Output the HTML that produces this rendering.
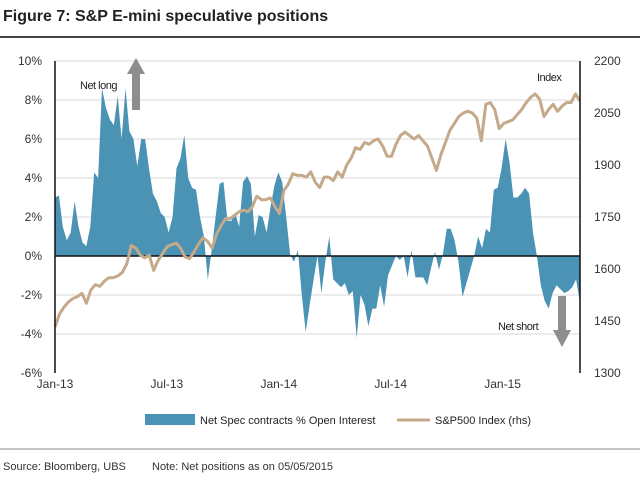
<!DOCTYPE html>
<html><head><meta charset="utf-8"><style>
body{margin:0;background:#fff;font-family:"Liberation Sans",sans-serif;}
svg text{font-family:"Liberation Sans",sans-serif;}
</style></head><body>
<svg id="chart" width="640" height="480" viewBox="0 0 640 480" xmlns="http://www.w3.org/2000/svg">
<text x="3" y="21" font-size="16" font-weight="bold" fill="#222">Figure 7: S&amp;P E-mini speculative positions</text>
<line x1="0" y1="37" x2="640" y2="37" stroke="#444" stroke-width="2"/>
<g id="grid"></g>
<g id="series"></g>
<g id="axes"></g>
<g>
<text x="80" y="89" font-size="11" fill="#222" letter-spacing="-0.5">Net long</text>
<rect x="132" y="72" width="8" height="38" fill="#8e8e8e"/>
<polygon points="127,74 136,58 145,74" fill="#8e8e8e"/>
</g>
<text x="537" y="81" font-size="11" fill="#222" letter-spacing="-0.5">Index</text>
<g>
<text x="498" y="330" font-size="11" fill="#222" letter-spacing="-0.5">Net short</text>
<rect x="558" y="296" width="8" height="35" fill="#8e8e8e"/>
<polygon points="553,330 562,347 571,330" fill="#8e8e8e"/>
</g>
<g>
<rect x="145" y="414" width="50" height="11" fill="#4a93b5"/>
<text x="200" y="424" font-size="11" fill="#222">Net Spec contracts % Open Interest</text>
<line x1="397" y1="420" x2="430" y2="420" stroke="#c4a98a" stroke-width="3"/>
<text x="435" y="424" font-size="11" fill="#222">S&amp;P500 Index (rhs)</text>
</g>
<line x1="0" y1="449" x2="640" y2="449" stroke="#888" stroke-width="1"/>
<text x="3" y="470" font-size="11" fill="#333">Source: Bloomberg, UBS</text>
<text x="152" y="470" font-size="11" fill="#333">Note: Net positions as on 05/05/2015</text>
</svg>
<script>
const netSpec=[3.0,3.1,1.5,0.8,1.2,2.8,1.5,0.7,0.5,1.5,4.3,4.0,8.6,7.6,7.0,6.7,8.2,6.0,8.6,6.4,6.0,4.6,6.0,6.0,4.5,3.2,2.8,2.2,2.0,1.2,2.0,4.5,5.0,6.2,4.0,3.5,3.4,2.0,1.0,-1.2,0.3,2.0,3.7,3.8,1.8,1.8,2.2,1.5,3.8,4.1,3.7,1.0,2.1,2.0,1.2,2.5,3.6,4.3,3.8,2.0,0.1,-0.3,0.3,-2.0,-3.9,-2.5,-1.2,0.0,-1.9,-0.3,1.0,-1.2,-1.4,-1.6,-1.4,-2.0,-1.8,-4.2,-2.0,-2.5,-3.6,-2.7,-2.7,-1.5,-2.6,-1.0,-0.5,0.0,-0.2,0.0,-1.1,0.3,-1.1,-1.1,-1.1,-1.5,-0.6,0.2,-0.7,0.1,1.4,1.4,0.8,-0.3,-2.1,-1.4,-0.7,0.0,1.0,0.4,1.4,1.2,3.4,3.5,4.5,6.0,4.8,3.0,3.0,3.2,3.5,3.2,1.2,0.0,-1.5,-2.3,-2.7,-1.9,-1.5,-1.7,-1.9,-1.8,-1.6,-1.2,-2.4];
const spx=[1433,1470,1490,1505,1515,1520,1530,1501,1540,1555,1550,1565,1575,1575,1580,1590,1615,1668,1660,1640,1632,1640,1596,1625,1645,1665,1670,1675,1660,1635,1630,1650,1672,1690,1680,1660,1700,1725,1745,1745,1755,1765,1770,1765,1780,1810,1800,1800,1805,1780,1760,1826,1845,1875,1870,1870,1865,1880,1850,1835,1865,1865,1855,1880,1865,1900,1920,1950,1945,1965,1960,1970,1975,1955,1925,1925,1960,1985,1995,1985,1975,1985,1970,1955,1920,1884,1930,1965,2000,2020,2040,2050,2055,2050,2035,1970,2075,2080,2060,2005,2020,2025,2030,2045,2060,2080,2095,2105,2090,2040,2060,2075,2055,2070,2080,2080,2105,2085];
const leftTicks=[10,8,6,4,2,0,-2,-4,-6];
const rightTicks=[2200,2050,1900,1750,1600,1450,1300];
const xLabels=["Jan-13","Jul-13","Jan-14","Jul-14","Jan-15"];
const xLabelMonths=[0,6,12,18,24];
const totalMonths=28.15;
const X0=55,X1=580,Y0=61,Y1=373;
const yL=v=>Y0+(10-v)/16*(Y1-Y0);
const yR=v=>Y0+(2200-v)/900*(Y1-Y0);
const xM=m=>X0+m/totalMonths*(X1-X0);
const xI=(i,n)=>X0+i/(n-1)*(X1-X0);
const NS="http://www.w3.org/2000/svg";
function mk(tag,attrs,parent){const e=document.createElementNS(NS,tag);for(const k in attrs)e.setAttribute(k,attrs[k]);parent.appendChild(e);return e;}
const grid=document.getElementById('grid'),axes=document.getElementById('axes'),series=document.getElementById('series');
leftTicks.forEach(t=>{
 if(t!==0&&t!==-6){const g=mk('line',{x1:X0,x2:X1,y1:yL(t),y2:yL(t),stroke:'#e6e6e6','stroke-width':1.5},grid);
 
 }
 const tx=mk('text',{x:42,y:yL(t)+4,'font-size':12,'text-anchor':'end',fill:'#333'},axes);tx.textContent=t+'%';
 
 
});
rightTicks.forEach(t=>{
 const tx=mk('text',{x:594,y:yR(t)+4,'font-size':12,fill:'#333'},axes);tx.textContent=t;
 
 
});
xLabels.forEach((l,i)=>{
 const tx=mk('text',{x:xM(xLabelMonths[i]),y:388,'font-size':12,'text-anchor':'middle',fill:'#333'},axes);tx.textContent=l;
 
 
});
let d='M'+X0+','+yL(0);
netSpec.forEach((v,i)=>{d+=' L'+xI(i,netSpec.length).toFixed(1)+','+yL(v).toFixed(1);});
d+=' L'+X1+','+yL(0)+' Z';
const area=mk('path',{d:d,fill:'#4a93b5'},series);


const zl=mk('line',{x1:X0,x2:X1,y1:yL(0),y2:yL(0),stroke:'#111','stroke-width':1.5},series);


const pts=spx.map((v,i)=>xI(i,spx.length).toFixed(1)+','+yR(v).toFixed(1)).join(' ');
const ln=mk('polyline',{points:pts,fill:'none',stroke:'#c4a98a','stroke-width':3,'stroke-linejoin':'round'},series);


const la=mk('line',{x1:X0,x2:X0,y1:Y0,y2:Y1,stroke:'#111','stroke-width':1.5},axes);


const ra=mk('line',{x1:X1,x2:X1,y1:Y0,y2:Y1,stroke:'#111','stroke-width':1.5},axes);


</script>
</body></html>
